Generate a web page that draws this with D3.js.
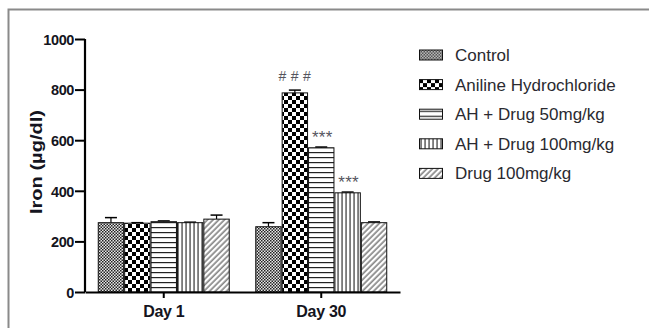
<!DOCTYPE html>
<html>
<head>
<meta charset="utf-8">
<script src="https://cdn.jsdelivr.net/npm/d3@7"></script>
<style>
  html, body { margin: 0; padding: 0; background: #fff; }
  svg { display: block; font-family: "Liberation Sans", Arial, sans-serif; }
</style>
</head>
<body>
<svg id="chart" width="649" height="328"></svg>
<script>
// Serum iron by group and day
const days = ["Day 1", "Day 30"];
const groups = ["Control", "Aniline Hydrochloride", "AH + Drug 50mg/kg", "AH + Drug 100mg/kg", "Drug 100mg/kg"];
const meansDay1 = [274, 272, 278, 274, 288];
const errDay1 = [20, 2, 3, 2, 16];
const meansDay30 = [258, 787, 570, 392, 274];
const errDay30 = [16, 11, 3, 3, 3];
const yTicks = [0, 200, 400, 600, 800, 1000];
// significance marks over Day 30 bars
const marksDay30 = ["", "###", "***", "***", ""];

const means = [meansDay1, meansDay30];
const errs = [errDay1, errDay30];
const marks = [["", "", "", "", ""], marksDay30];

const FONT = "'Liberation Sans', Arial, sans-serif";
const svg = d3.select("#chart");

// outer frame
svg.append("path")
  .attr("d", "M8.5,328 L8.5,9.5 L649,9.5")
  .attr("fill", "none").attr("stroke", "#8a8a8a").attr("stroke-width", 2);

// fill patterns
const defs = svg.append("defs");
const patIds = ["p-fine", "p-check", "p-hline", "p-vline", "p-diag"];

// fine checker
{
  const p = defs.append("pattern").attr("id", patIds[0]).attr("patternUnits", "userSpaceOnUse")
    .attr("width", 3).attr("height", 3);
  p.append("rect").attr("width", 3).attr("height", 3).attr("fill", "#e8e8e8");
  p.append("rect").attr("width", 1.5).attr("height", 1.5).attr("fill", "#222");
  p.append("rect").attr("x", 1.5).attr("y", 1.5).attr("width", 1.5).attr("height", 1.5).attr("fill", "#222");
}
// coarse checker
{
  const p = defs.append("pattern").attr("id", patIds[1]).attr("patternUnits", "userSpaceOnUse")
    .attr("width", 8).attr("height", 8);
  p.append("rect").attr("width", 8).attr("height", 8).attr("fill", "#fff");
  p.append("rect").attr("width", 4).attr("height", 4).attr("fill", "#000");
  p.append("rect").attr("x", 4).attr("y", 4).attr("width", 4).attr("height", 4).attr("fill", "#000");
}
// horizontal lines
{
  const p = defs.append("pattern").attr("id", patIds[2]).attr("patternUnits", "userSpaceOnUse")
    .attr("width", 5).attr("height", 5);
  p.append("rect").attr("width", 5).attr("height", 5).attr("fill", "#fff");
  p.append("rect").attr("y", 2).attr("width", 5).attr("height", 1.2).attr("fill", "#222");
}
// vertical lines
{
  const p = defs.append("pattern").attr("id", patIds[3]).attr("patternUnits", "userSpaceOnUse")
    .attr("width", 4).attr("height", 4);
  p.append("rect").attr("width", 4).attr("height", 4).attr("fill", "#fff");
  p.append("rect").attr("x", 1.5).attr("width", 1.1).attr("height", 4).attr("fill", "#222");
}
// diagonal lines
{
  const p = defs.append("pattern").attr("id", patIds[4]).attr("patternUnits", "userSpaceOnUse")
    .attr("width", 4).attr("height", 4).attr("patternTransform", "rotate(45)");
  p.append("rect").attr("width", 4).attr("height", 4).attr("fill", "#fff");
  p.append("rect").attr("x", 1.5).attr("width", 1.2).attr("height", 4).attr("fill", "#555");
}

// scales
const y = d3.scaleLinear().domain([0, 1000]).range([292, 39]);
const x0 = d3.scaleBand().domain(days).range([85, 400]).paddingInner(0.162).paddingOuter(0.081);
const x1 = d3.scaleBand().domain(groups).range([0, x0.bandwidth()]);

const rows = [];
days.forEach((d, di) => groups.forEach((g, gi) => rows.push({
  day: d, group: g, gi, v: means[di][gi], e: errs[di][gi], mark: marks[di][gi]
})));

const bars = svg.append("g");
bars.selectAll("g.bar").data(rows).join("g").attr("class", "bar").each(function (r) {
  const g = d3.select(this);
  const bx = x0(r.day) + x1(r.group);
  const bw = x1.bandwidth();
  const cx = bx + bw / 2;
  // error bar (upper only)
  g.append("line").attr("x1", cx).attr("x2", cx).attr("y1", y(r.v)).attr("y2", y(r.v + r.e))
    .attr("stroke", "#000").attr("stroke-width", 1.2);
  g.append("line").attr("x1", cx - 6).attr("x2", cx + 6).attr("y1", y(r.v + r.e)).attr("y2", y(r.v + r.e))
    .attr("stroke", "#000").attr("stroke-width", 1.5);
  g.append("rect").attr("x", bx + 0.5).attr("y", y(r.v)).attr("width", bw - 1).attr("height", y(0) - y(r.v))
    .attr("fill", `url(#${patIds[r.gi]})`).attr("stroke", "#111").attr("stroke-width", 1);
  if (r.mark === "###") {
    g.append("text").attr("x", cx + 2).attr("y", y(r.v + r.e) - 9)
      .attr("text-anchor", "middle").attr("font-size", 14).attr("letter-spacing", 4.5)
      .attr("font-family", FONT).attr("fill", "#55555e").text(r.mark);
  } else if (r.mark) {
    g.append("text").attr("x", cx + 1).attr("y", y(r.v + r.e) - 4)
      .attr("text-anchor", "middle").attr("font-size", 17).attr("letter-spacing", 0.3)
      .attr("font-family", FONT).attr("fill", "#55555e").text(r.mark);
  }
});

// y axis
const yAxis = svg.append("g").attr("transform", "translate(85,0)")
  .call(d3.axisLeft(y).tickValues(yTicks).tickSize(10).tickFormat(d3.format("d")));
yAxis.select(".domain").attr("stroke", "#000").attr("stroke-width", 2.2).attr("d", "M0,292V39");
yAxis.selectAll(".tick line").attr("stroke", "#000").attr("stroke-width", 2);
yAxis.selectAll(".tick text").attr("font-size", 14.5).attr("font-weight", "bold").attr("fill", "#141420")
  .attr("x", -11).attr("dy", "0.36em").attr("letter-spacing", -0.4).attr("font-family", FONT);

// x axis
const xAxis = svg.append("g").attr("transform", "translate(0,292)")
  .call(d3.axisBottom(x0).tickSize(6).tickSizeOuter(0));
xAxis.select(".domain").attr("stroke", "#000").attr("stroke-width", 2.2);
xAxis.selectAll(".tick line").attr("stroke", "#000").attr("stroke-width", 2);
xAxis.selectAll(".tick text").attr("font-size", 16).attr("font-weight", "bold").attr("fill", "#141420")
  .attr("y", 25).attr("dy", "0").attr("letter-spacing", -0.3).attr("font-family", FONT);

// y title
svg.append("text").attr("transform", "translate(42,162) rotate(-90)")
  .attr("text-anchor", "middle").attr("font-size", 16).attr("font-weight", "bold").attr("fill", "#141420")
  .attr("font-family", FONT)
  .attr("textLength", 104).attr("lengthAdjust", "spacingAndGlyphs")
  .text("Iron (µg/dl)");

// legend
const legend = svg.append("g");
const lg = legend.selectAll("g").data(groups).join("g")
  .attr("transform", (d, i) => `translate(419,${49.5 + i * 29.6})`);
lg.append("rect").attr("x", 0.5).attr("y", 0.5).attr("width", 23).attr("height", 10)
  .attr("fill", (d, i) => `url(#${patIds[i]})`).attr("stroke", "#111").attr("stroke-width", 1);
lg.append("text").attr("x", 36).attr("y", 11.5)
  .attr("font-size", 17).attr("font-family", FONT).attr("fill", "#2a2a30").text(d => d);
</script>
</body>
</html>
